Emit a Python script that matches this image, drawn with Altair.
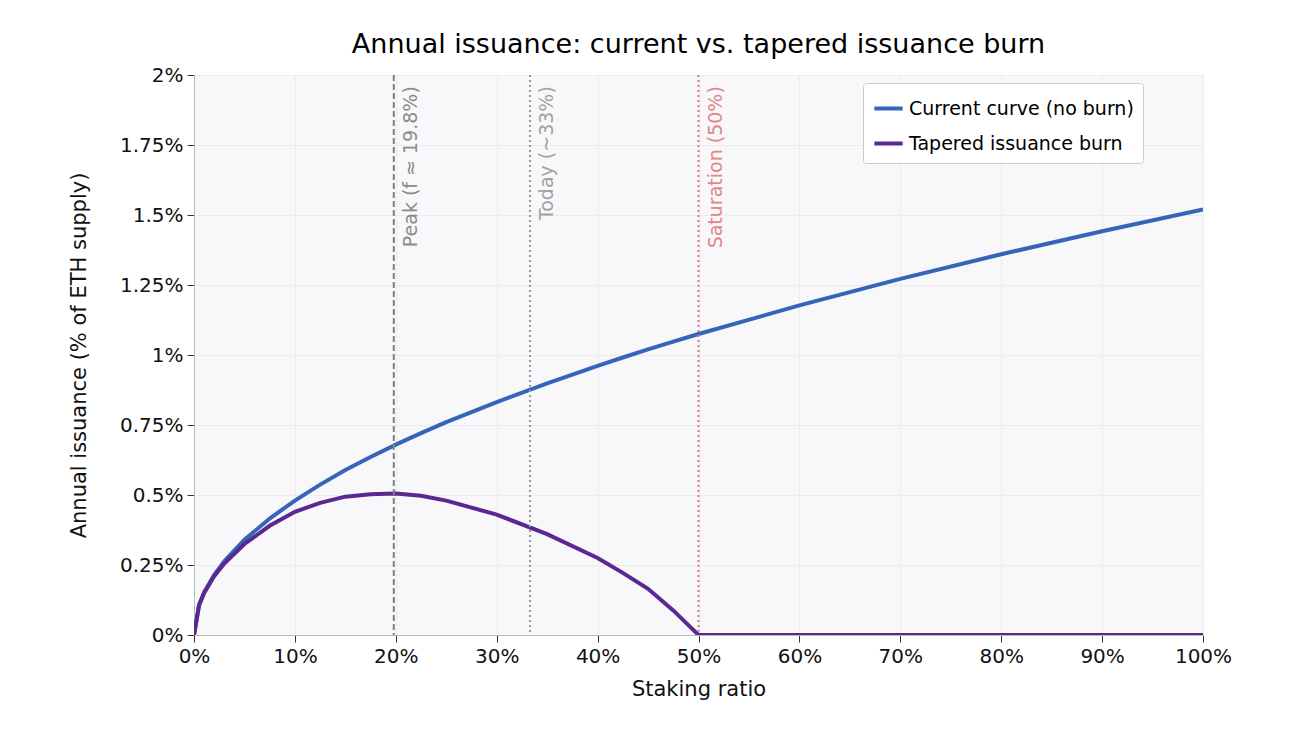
import pandas as pd
import altair as alt

# staking ratio (%) and issuance (% of ETH supply)
stake = [0, 0.5, 1, 2, 3, 5, 7.5, 10, 12.5, 15, 17.5, 20, 22.5, 25, 30, 35, 40, 42.5, 45,
         47.5, 50, 60, 70, 80, 90, 100]
current = [0, 0.107, 0.152, 0.215, 0.263, 0.34, 0.416, 0.48, 0.537, 0.589, 0.636, 0.68,
           0.721, 0.76, 0.832, 0.899, 0.961, 0.991, 1.02, 1.048, 1.075, 1.177, 1.272,
           1.36, 1.442, 1.52]
tapered = [0, 0.106, 0.15, 0.21, 0.255, 0.325, 0.39, 0.44, 0.472, 0.494, 0.503, 0.505,
           0.497, 0.48, 0.43, 0.36, 0.275, 0.222, 0.165, 0.088, 0, 0, 0, 0, 0, 0]

series_names = ['Current curve (no burn)', 'Tapered issuance burn']
series_colors = ['#3565b8', '#5a2890']

marker_x = [19.8, 33.3, 50]
marker_text = ['Peak (f ≈ 19.8%)', 'Today (~33%)', 'Saturation (50%)']
marker_colors = ['#808080', '#9a9a9a', '#e07a7a']
marker_dash = [[6, 3], [2, 3], [2, 3]]

df = pd.DataFrame({'stake': stake * 2,
                   'issuance': current + tapered,
                   'series': [series_names[0]] * len(stake) + [series_names[1]] * len(stake)})

x = alt.X('stake:Q', scale=alt.Scale(domain=[0, 100], nice=False),
          axis=alt.Axis(values=list(range(0, 101, 10)), labelExpr="datum.value + '%'",
                        title='Staking ratio', labelFlush=False, titlePadding=12))
y = alt.Y('issuance:Q', scale=alt.Scale(domain=[0, 2], nice=False),
          axis=alt.Axis(values=[0, 0.25, 0.5, 0.75, 1, 1.25, 1.5, 1.75, 2],
                        labelExpr="datum.value + '%'", labelFlush=False,
                        title='Annual issuance (% of ETH supply)', titlePadding=30))

lines = alt.Chart(df).mark_line(strokeWidth=4, clip=True).encode(
    x=x, y=y,
    color=alt.Color('series:N', sort=series_names,
                    scale=alt.Scale(domain=series_names, range=series_colors),
                    legend=alt.Legend(title=None, orient='none', legendX=669, legendY=8,
                                      fillColor='white', strokeColor='#cccccc', padding=9,
                                      cornerRadius=3, symbolType='stroke', symbolStrokeWidth=4,
                                      symbolSize=800, labelFontSize=19, labelLimit=300,
                                      rowPadding=8))
)

layers = [lines]
for mx, txt, col, dash in zip(marker_x, marker_text, marker_colors, marker_dash):
    mdf = pd.DataFrame({'stake': [mx], 'lx': [mx + 1.7], 'issuance': [1.96], 'label': [txt]})
    layers.append(alt.Chart(mdf).mark_rule(color=col, strokeWidth=2, strokeDash=dash).encode(x='stake:Q'))
    layers.append(alt.Chart(mdf).mark_text(angle=270, align='right', baseline='middle',
                                           fontSize=19, color=col, opacity=0.9).encode(
        x='lx:Q', y='issuance:Q', text='label:N'))

chart = alt.layer(*layers).properties(
    width=1009, height=560,
    autosize=alt.AutoSizeParams(type='none'),
    padding={'left': 186, 'top': 67, 'right': 90, 'bottom': 100},
    title=alt.TitleParams('Annual issuance: current vs. tapered issuance burn',
                          fontSize=27, fontWeight='normal', offset=6)
).configure(font='DejaVu Sans').configure_view(fill='#f8f8fa', stroke=None).configure_axis(
    labelFontSize=20, titleFontSize=21, titleFontWeight='normal', gridColor='#ececec',
    domainColor='#bbbbbb', tickColor='#333333', labelColor='#111111', titleColor='#111111',
    labelPadding=4, tickSize=7
)

chart.save('out.html', embed_options={'renderer': 'svg', 'actions': False})
